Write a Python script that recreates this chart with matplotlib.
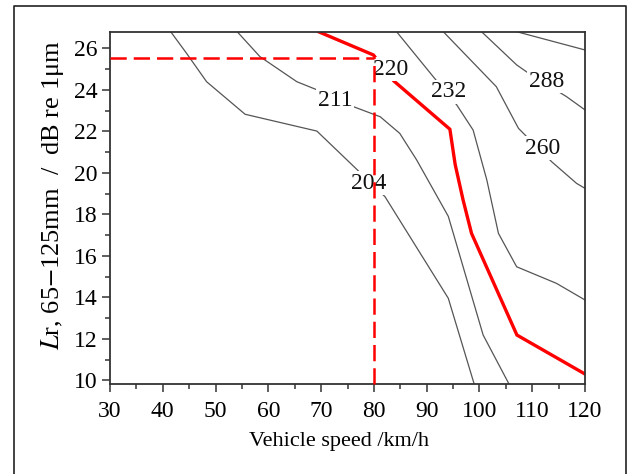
import matplotlib
matplotlib.use("Agg")
import matplotlib.pyplot as plt
from matplotlib.lines import Line2D
from matplotlib.ticker import MultipleLocator

plt.rcParams['font.family'] = ['Liberation Serif', 'DejaVu Serif']
plt.rcParams['mathtext.fontset'] = 'stix'

# Contour lines (vehicle speed km/h, roughness level dB)
c204_x = [41.5, 44.5, 48.3, 55.6, 69.2, 76.7, 82.1, 94.1, 99.0]
c204_y = [26.8, 25.76, 24.39, 22.82, 22.01, 20.18, 18.85, 13.95, 9.82]

c211_x = [54.1, 58.4, 65.4, 69.2, 76.4, 81.2, 84.9, 88.1, 94.1, 100.7, 105.6]
c211_y = [26.8, 25.6, 24.39, 24.0, 23.16, 22.7, 21.9, 20.62, 17.9, 12.18, 9.82]

c220_x = [69.5, 79.9, 83.8, 94.4, 95.4, 96.9, 98.5, 107.1, 120.0]
c220_y = [26.8, 25.68, 24.42, 22.1, 20.4, 18.69, 17.08, 12.18, 10.3]

c232_x = [84.3, 91.25, 95.7, 98.8, 101.4, 103.6, 107.05, 114.6, 120.0]
c232_y = [26.8, 24.63, 23.27, 22.06, 19.65, 17.08, 15.47, 14.67, 13.87]

c260_x = [93.15, 103.2, 105.2, 107.4, 113.7, 118.4, 120.0]
c260_y = [26.8, 24.15, 23.19, 22.14, 20.53, 19.49, 19.25]

c288_x = [100.4, 107.05, 109.3, 116.5, 120.0]
c288_y = [26.8, 25.2, 24.8, 23.67, 23.03]

ctop_x = [107.05, 120.0]
ctop_y = [26.8, 25.92]

labels = ["204", "211", "220", "232", "260", "288"]
label_x = [79.1, 72.6, 83.2, 94.1, 111.9, 112.7]
label_y = [19.5, 23.5, 25.0, 23.9, 21.18, 24.4]

target_speed = 80
target_level = 25.55
corner_level = 25.68

W, H = 628, 474
fig = plt.figure(figsize=(W / 100, H / 100), dpi=100)
ax = fig.add_axes([110 / W, 1 - 384 / H, 475 / W, (384 - 31.7) / H])

gray = '#555555'
for xs, ys in [(c204_x, c204_y), (c211_x, c211_y), (c232_x, c232_y),
               (c260_x, c260_y), (c288_x, c288_y), (ctop_x, ctop_y)]:
    ax.plot(xs, ys, color=gray, lw=0.9, zorder=2, solid_joinstyle='miter')
ax.plot(c220_x, c220_y, color='#ff0000', lw=2.4, zorder=2.5, solid_joinstyle='miter')

for t, x, y in zip(labels, label_x, label_y):
    ax.text(x, y, t, fontsize=17, ha='center', va='center', color='#111111', zorder=3,
            bbox=dict(facecolor='white', edgecolor='none', pad=1.0))

ax.plot([target_speed, target_speed], [9.82, corner_level], color='#ff0000', lw=1.8,
        dashes=(6.5, 2.8), zorder=4, clip_on=False)
ax.plot([30, target_speed], [target_level, target_level], color='#ff0000', lw=1.8,
        dashes=(6.5, 2.8), zorder=4)

ax.set_xlim(30, 120)
ax.set_ylim(9.82, 26.8)
ax.xaxis.set_major_locator(MultipleLocator(10))
ax.xaxis.set_minor_locator(MultipleLocator(5))
ax.yaxis.set_major_locator(MultipleLocator(2))
ax.yaxis.set_minor_locator(MultipleLocator(1))
ax.tick_params(which='both', direction='out', color='#333333', width=1.1, labelsize=17,
               top=False, right=False)
ax.tick_params(which='major', length=6, pad=3)
ax.tick_params(axis='x', which='major', pad=6)
ax.tick_params(which='minor', length=3.5)
for s in ax.spines.values():
    s.set_color('#333333')
    s.set_linewidth(1.3)

fig.text(339 / W, 1 - 441.7 / H, "Vehicle speed /km/h", fontsize=16, ha='center', va='center')
fig.text(53 / W, 1 - 195.5 / H, r"$L$r, 65$-$125mm  /  dB re 1μm",
         fontsize=19, rotation=90, ha='center', va='center')

# outer frame (left, top, right)
fig.add_artist(Line2D([14 / W, 14 / W, 626 / W, 626 / W], [0, 1 - 6 / H, 1 - 6 / H, 0],
                      transform=fig.transFigure, color='#222222', lw=1.2))

fig.savefig("out.png", dpi=100)
